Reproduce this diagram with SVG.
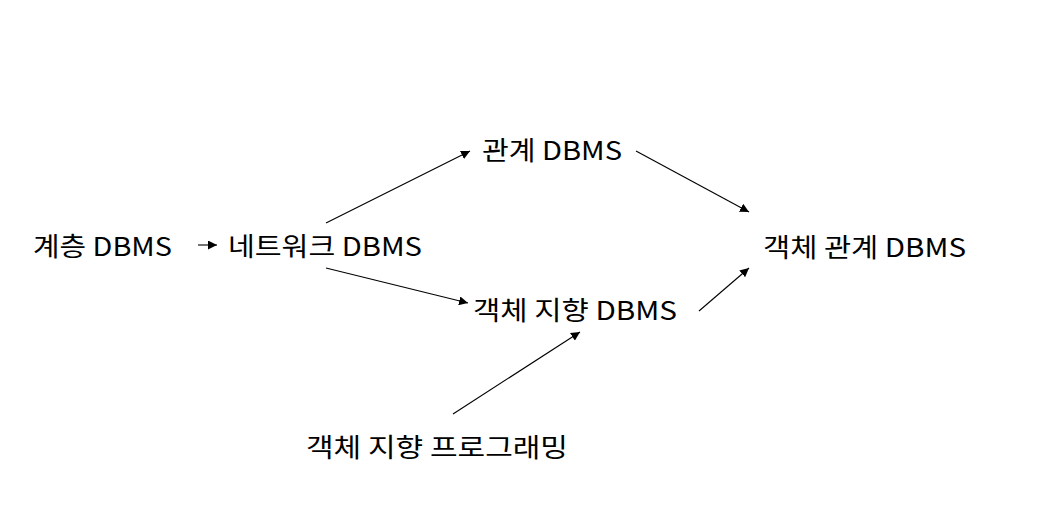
<svg xmlns="http://www.w3.org/2000/svg" width="1057" height="516" viewBox="0 0 1057 516">
<style>
text{font-family:"Noto Sans CJK KR","Noto Sans",sans-serif;font-size:26px;fill:#000}
.c line{stroke:#000;stroke-width:1.1;marker-end:url(#ah)}
</style>
<defs>
<marker id="ah" viewBox="0 0 10 10" refX="10" refY="5" markerWidth="9" markerHeight="9" markerUnits="userSpaceOnUse" orient="auto">
<path d="M0,0L10,5L0,10z" fill="#000"/>
</marker>
</defs>
<rect width="1057" height="516" fill="#fff"/>
<g id="n1"><text x="33" y="256" textLength="139" lengthAdjust="spacingAndGlyphs">계층 DBMS</text></g>
<g id="n2"><text x="228" y="256" textLength="194" lengthAdjust="spacingAndGlyphs">네트워크 DBMS</text></g>
<g id="n3"><text x="482" y="160" textLength="140" lengthAdjust="spacingAndGlyphs">관계 DBMS</text></g>
<g id="n4"><text x="473" y="320" textLength="204" lengthAdjust="spacingAndGlyphs">객체 지향 DBMS</text></g>
<g id="n5"><text x="763" y="257" textLength="203" lengthAdjust="spacingAndGlyphs">객체 관계 DBMS</text></g>
<g id="n6"><text x="306" y="457" textLength="262" lengthAdjust="spacingAndGlyphs">객체 지향 프로그래밍</text></g>
<g class="c" id="connectors">
<line x1="198" y1="245" x2="217" y2="245"/>
<line x1="326" y1="223" x2="470" y2="151"/>
<line x1="326" y1="268" x2="468" y2="303"/>
<line x1="636" y1="151" x2="749" y2="212"/>
<line x1="699" y1="311" x2="749" y2="268"/>
<line x1="453" y1="414" x2="580" y2="332"/>
</g>
</svg>
